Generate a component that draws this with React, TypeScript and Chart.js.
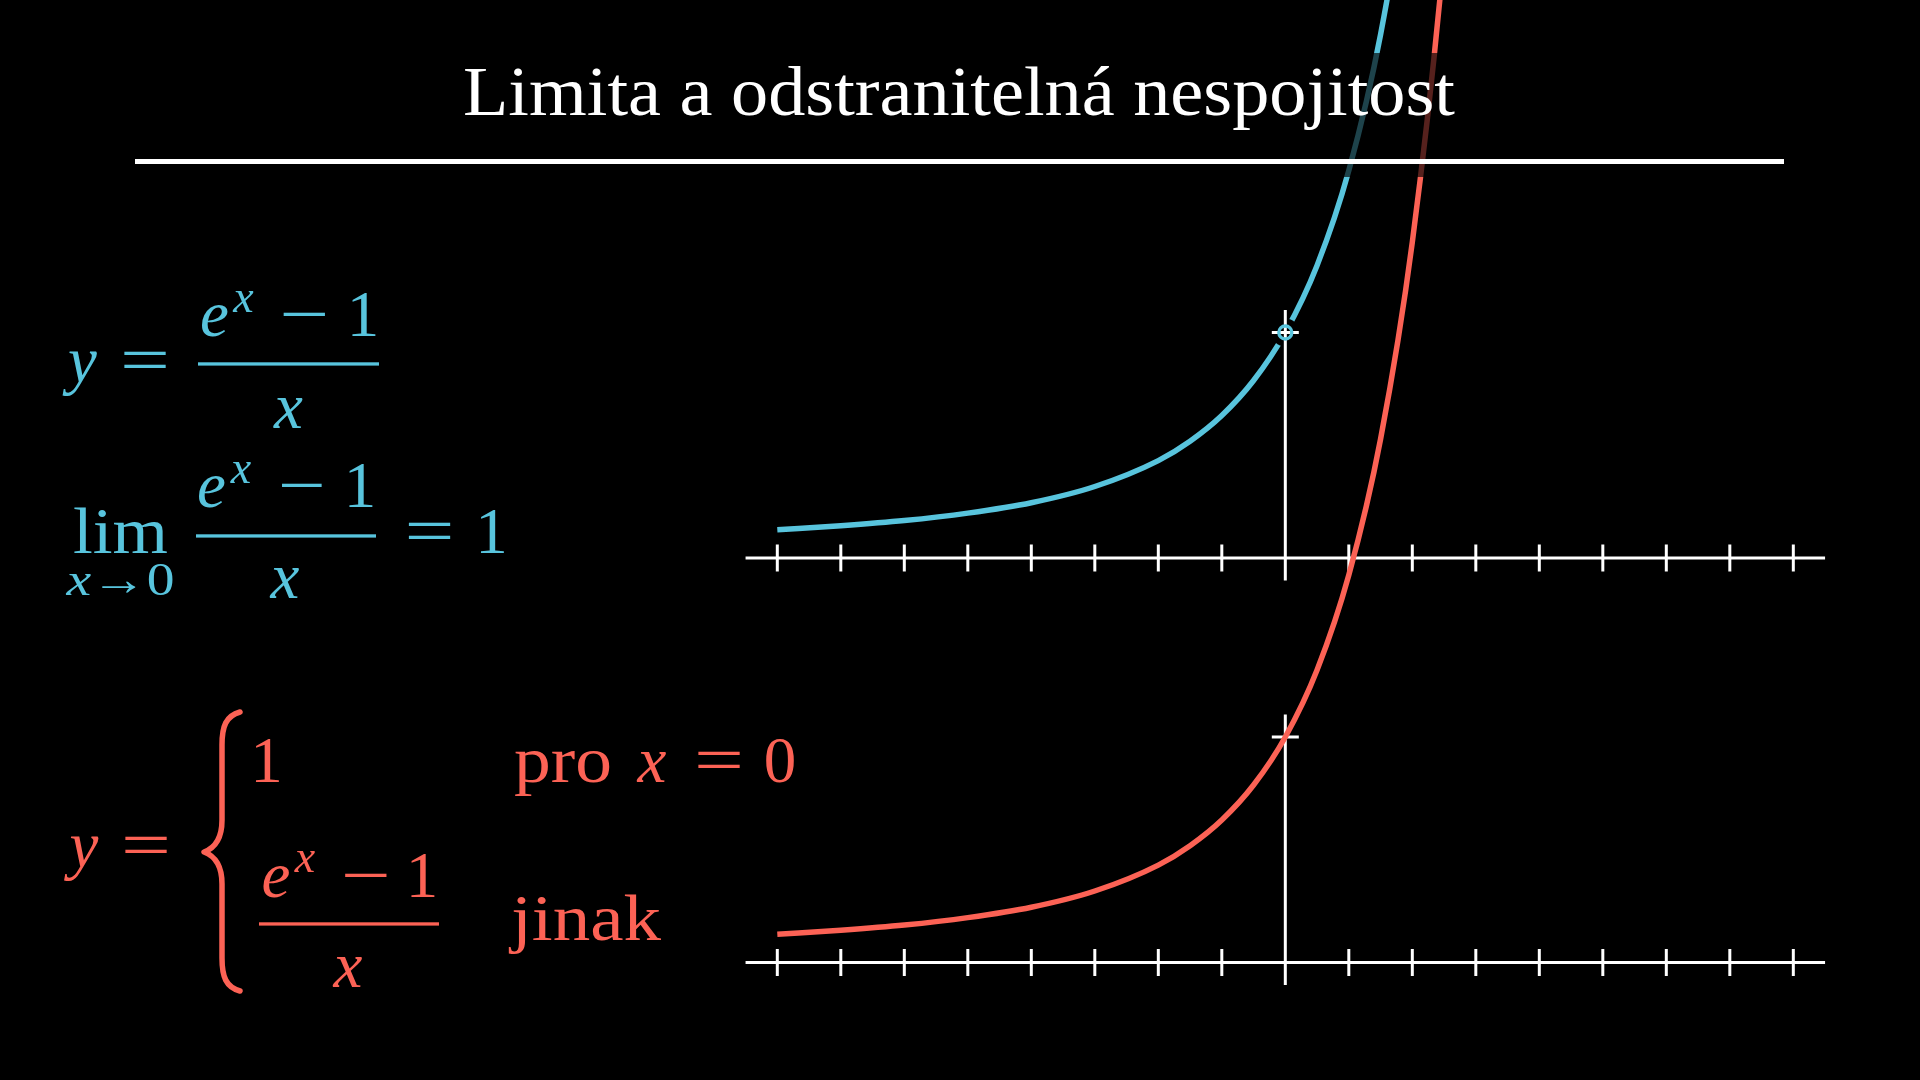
import React, { useEffect, useRef } from "react";
import { Chart, registerables } from "chart.js";

Chart.register(...registerables);

// ---- data ----
const curveX = [-8, -7, -6, -5, -4, -3, -2, -1.5, -1, -0.5, 0, 0.5, 1, 1.5, 2, 2.5, 3];
const blueCurveY = [0.125, 0.143, 0.166, 0.199, 0.245, 0.317, 0.432, 0.518, 0.632, 0.787, 1.0, 1.297, 1.718, 2.321, 3.195, 4.473, 6.36];
const redCurveY = [0.125, 0.143, 0.166, 0.199, 0.245, 0.317, 0.432, 0.518, 0.632, 0.787, 1.0, 1.297, 1.718, 2.321, 3.195, 4.473, 6.36];
const tickX = [-8, -7, -6, -5, -4, -3, -2, -1, 1, 2, 3, 4, 5, 6, 7, 8];
const xAxisEnds = [-8.5, 8.5];
const yAxisEnds = [-0.1, 1.1];
const markerX = [0];
const markerY = [1];

const BLUE = "#58C4DD";
const RED = "#FC6255";
const WHITE = "#FFFFFF";
const FONT = "'Liberation Serif', 'DejaVu Serif', serif";

// view window (units) so that both plots land where they are in the frame
const X_MIN = -20.241;
const X_MAX = 9.995;
const TOP_MIN = -2.3149;
const TOP_MAX = 2.4745;
const BOT_MIN = -0.5211;
const BOT_MAX = 4.2683;

type P = { x: number; y: number };
const pts = (xs: number[], ys: number[]): P[] => xs.map((x, i) => ({ x, y: ys[i] }));

function axisSets(yAxisID: string, order: number) {
  return [
    {
      data: xAxisEnds.map((x) => ({ x, y: 0 })),
      borderColor: WHITE,
      borderWidth: 3,
      pointRadius: 0,
      yAxisID,
      order,
    },
    {
      data: yAxisEnds.map((y) => ({ x: 0, y })),
      borderColor: WHITE,
      borderWidth: 3,
      pointRadius: 0,
      yAxisID,
      order,
    },
    {
      data: tickX.map((x) => ({ x, y: 0 })),
      showLine: false,
      pointStyle: "line",
      pointRotation: 90,
      pointRadius: 13.5,
      pointBorderWidth: 3,
      pointBorderColor: WHITE,
      pointBackgroundColor: WHITE,
      yAxisID,
      order,
    },
    {
      data: pts(markerX, markerY),
      showLine: false,
      pointStyle: "line",
      pointRotation: 0,
      pointRadius: 13.5,
      pointBorderWidth: 3,
      pointBorderColor: WHITE,
      pointBackgroundColor: WHITE,
      yAxisID,
      order,
    },
  ];
}

type TP = {
  x: number;
  y: number;
  s?: number;
  it?: boolean;
  w?: number;
  anchor?: "start" | "middle" | "end";
  fill: string;
  children: React.ReactNode;
};
const T = ({ x, y, s = 65, it = false, w, anchor = "middle", fill, children }: TP) => (
  <text
    x={x}
    y={y}
    fontSize={s}
    fontFamily={FONT}
    fontStyle={it ? "italic" : "normal"}
    textAnchor={anchor}
    fill={fill}
    {...(w ? { textLength: w, lengthAdjust: "spacingAndGlyphs" } : {})}
  >
    {children}
  </text>
);

export default function App() {
  const ref = useRef<HTMLCanvasElement>(null);

  useEffect(() => {
    if (!ref.current) return;
    const chart = new Chart(ref.current, {
      type: "line",
      data: {
        datasets: [
          // blue hollow marker (top-most)
          {
            data: pts(markerX, markerY),
            showLine: false,
            pointRadius: 6.5,
            pointBorderWidth: 3.3,
            pointBorderColor: BLUE,
            pointBackgroundColor: "rgba(0,0,0,0)",
            yAxisID: "yTop",
            order: 0,
          },
          // red curve
          {
            data: pts(curveX, redCurveY),
            borderColor: RED,
            borderWidth: 5.5,
            pointRadius: 0,
            cubicInterpolationMode: "monotone",
            yAxisID: "yBot",
            order: 1,
          },
          ...axisSets("yTop", 2),
          ...axisSets("yBot", 2),
          // black gap around the hole
          {
            data: pts(markerX, markerY),
            showLine: false,
            pointRadius: 14,
            pointBorderWidth: 0,
            pointBackgroundColor: "#000000",
            yAxisID: "yTop",
            order: 3,
          },
          // blue curve
          {
            data: pts(curveX, blueCurveY),
            borderColor: BLUE,
            borderWidth: 5.5,
            pointRadius: 0,
            cubicInterpolationMode: "monotone",
            yAxisID: "yTop",
            order: 4,
          },
        ] as any,
      },
      options: {
        animation: false,
        responsive: false,
        maintainAspectRatio: false,
        events: [],
        layout: { padding: 0, autoPadding: false },
        plugins: {
          legend: { display: false },
          tooltip: { enabled: false },
          title: { display: false },
        },
        scales: {
          x: { type: "linear", min: X_MIN, max: X_MAX, display: false },
          yTop: { type: "linear", axis: "y", min: TOP_MIN, max: TOP_MAX, display: false },
          yBot: { type: "linear", axis: "y", min: BOT_MIN, max: BOT_MAX, display: false },
        } as any,
      } as any,
    });
    return () => chart.destroy();
  }, []);

  return (
    <div
      style={{
        position: "fixed",
        left: 0,
        top: 0,
        width: 1920,
        height: 1080,
        background: "#000",
        overflow: "hidden",
      }}
    >
      <canvas
        ref={ref}
        width={1920}
        height={1080}
        style={{ position: "absolute", left: 0, top: 0, width: 1920, height: 1080, display: "block" }}
      />
      <svg
        width={1920}
        height={1080}
        viewBox="0 0 1920 1080"
        style={{ position: "absolute", left: 0, top: 0, pointerEvents: "none" }}
      >
        {/* title backdrop */}
        <rect x={120} y={53} width={1680} height={124} fill="#000" fillOpacity={0.66} />
        <T x={959} y={115} s={69} w={992} fill={WHITE}>
          Limita a odstranitelná nespojitost
        </T>
        <rect x={135} y={159} width={1649} height={5} fill={WHITE} />

        {/* y = (e^x - 1)/x */}
        <T x={82.5} y={382} it fill={BLUE}>y</T>
        <T x={145} y={382} w={50} fill={BLUE}>=</T>
        <T x={214.5} y={336} it fill={BLUE}>e</T>
        <T x={243.5} y={312} s={46} it fill={BLUE}>x</T>
        <T x={304.5} y={336} w={50} fill={BLUE}>−</T>
        <T x={363} y={336} fill={BLUE}>1</T>
        <rect x={198} y={362.3} width={181} height={3.3} fill={BLUE} />
        <T x={288.5} y={428} it fill={BLUE}>x</T>

        {/* lim (e^x - 1)/x = 1 */}
        <T x={120.5} y={553} w={95} fill={BLUE}>lim</T>
        <T x={120.5} y={595} s={46} w={108} fill={BLUE}>
          <tspan fontStyle="italic">x</tspan>→0
        </T>
        <T x={211.5} y={507} it fill={BLUE}>e</T>
        <T x={241} y={483} s={46} it fill={BLUE}>x</T>
        <T x={302} y={507} w={48} fill={BLUE}>−</T>
        <T x={360} y={507} fill={BLUE}>1</T>
        <rect x={196} y={534.3} width={180} height={3.3} fill={BLUE} />
        <T x={285} y={598} it fill={BLUE}>x</T>
        <T x={429.5} y={553} w={50} fill={BLUE}>=</T>
        <T x={491.5} y={553} fill={BLUE}>1</T>

        {/* piecewise */}
        <T x={84} y={867} it fill={RED}>y</T>
        <T x={146} y={867} w={50} fill={RED}>=</T>
        <path
          d="M 240 712 C 226 716, 222 726, 222 745 L 222 820 C 222 838, 215 848, 204 852 C 215 856, 222 866, 222 884 L 222 958 C 222 977, 226 987, 240 991"
          fill="none"
          stroke={RED}
          strokeWidth={5.5}
          strokeLinecap="round"
          strokeLinejoin="round"
        />
        <T x={266.5} y={782} fill={RED}>1</T>
        <T x={563} y={782} w={98} fill={RED}>pro</T>
        <T x={652} y={782} it fill={RED}>x</T>
        <T x={719} y={782} w={50} fill={RED}>=</T>
        <T x={780} y={782} fill={RED}>0</T>
        <T x={276} y={897} it fill={RED}>e</T>
        <T x={305} y={872} s={46} it fill={RED}>x</T>
        <T x={366} y={897} w={50} fill={RED}>−</T>
        <T x={422} y={897} fill={RED}>1</T>
        <rect x={259} y={922.3} width={180} height={3.3} fill={RED} />
        <T x={348} y={987} it fill={RED}>x</T>
        <T x={586} y={940} w={150} fill={RED}>jinak</T>
      </svg>
    </div>
  );
}
